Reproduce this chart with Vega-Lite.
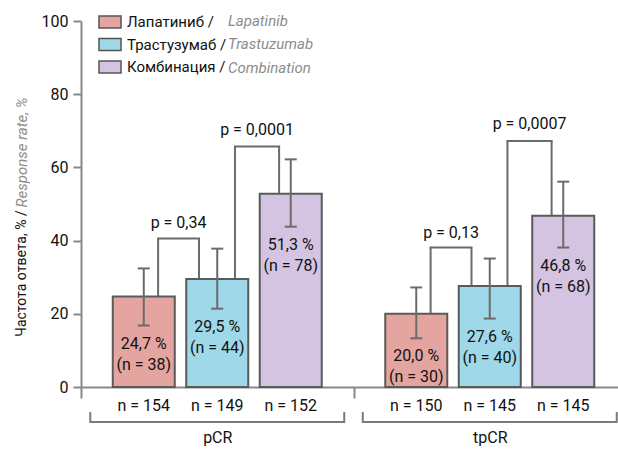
{
  "$schema": "https://vega.github.io/schema/vega-lite/v6.json",
  "width": 537,
  "height": 366,
  "autosize": {"type": "none"},
  "padding": {"left": 81, "top": 21, "right": 0, "bottom": 63},
  "background": "white",
  "config": {
    "view": {"stroke": null},
    "font": "Roboto",
    "text": {"font": "Roboto", "fontSize": 16, "color": "#111"}
  },
  "datasets": {
    "bars": [
      {"group": "pCR", "drug": "Lapatinib", "ru": "Лапатиниб", "value": 24.7, "lo": 16.8, "hi": 32.4, "pct": "24,7 %", "nres": "(n = 38)", "ntot": "n = 154"},
      {"group": "pCR", "drug": "Trastuzumab", "ru": "Трастузумаб", "value": 29.5, "lo": 21.4, "hi": 37.8, "pct": "29,5 %", "nres": "(n = 44)", "ntot": "n = 149"},
      {"group": "pCR", "drug": "Combination", "ru": "Комбинация", "value": 52.8, "lo": 43.8, "hi": 62.2, "pct": "51,3 %", "nres": "(n = 78)", "ntot": "n = 152"},
      {"group": "tpCR", "drug": "Lapatinib", "ru": "Лапатиниб", "value": 20.0, "lo": 13.3, "hi": 27.2, "pct": "20,0 %", "nres": "(n = 30)", "ntot": "n = 150"},
      {"group": "tpCR", "drug": "Trastuzumab", "ru": "Трастузумаб", "value": 27.6, "lo": 18.7, "hi": 35.1, "pct": "27,6 %", "nres": "(n = 40)", "ntot": "n = 145"},
      {"group": "tpCR", "drug": "Combination", "ru": "Комбинация", "value": 46.8, "lo": 38.1, "hi": 56.1, "pct": "46,8 %", "nres": "(n = 68)", "ntot": "n = 145"}
    ],
    "brackets": [
      {"group": "pCR", "from": "Lapatinib", "to": "Trastuzumab", "h": 40.6, "p": "p = 0,34"},
      {"group": "pCR", "from": "Trastuzumab", "to": "Combination", "h": 65.7, "p": "p = 0,0001"},
      {"group": "tpCR", "from": "Lapatinib", "to": "Trastuzumab", "h": 38.1, "p": "p = 0,13"},
      {"group": "tpCR", "from": "Trastuzumab", "to": "Combination", "h": 67.2, "p": "p = 0,0007"}
    ],
    "groups": [{"group": "pCR"}, {"group": "tpCR"}]
  },
  "resolve": {"axis": {"y": "independent"}},
  "layer": [
    {
      "data": {"name": "brackets"},
      "transform": [{"filter": "datum.from == 'Lapatinib'"}],
      "mark": {"type": "rule", "color": "#6b6b6b", "strokeWidth": 2},
      "encoding": {
        "x": {"field": "group", "type": "nominal", "bandPosition": 0.283, "scale": {"paddingInner": 0, "paddingOuter": 0, "range": [0, 545]},
          "axis": {"title": null, "labelAngle": 0, "labelFont": "Roboto", "labelFontSize": 16, "labelColor": "#111", "labelPadding": 31, "tickBand": "extent", "tickSize": 11, "tickWidth": 2, "tickColor": "#888", "domainColor": "#888", "domainWidth": 2}},
        "y": {"field": "h", "type": "quantitative", "scale": {"domain": [0, 100], "nice": false}, "axis": null},
        "y2": {"datum": 0}
      }
    },
    {
      "data": {"name": "brackets"},
      "transform": [{"filter": "datum.from == 'Lapatinib'"}],
      "mark": {"type": "rule", "color": "#6b6b6b", "strokeWidth": 2},
      "encoding": {
        "x": {"field": "group", "type": "nominal", "bandPosition": 0.433, "scale": {"paddingInner": 0, "paddingOuter": 0, "range": [0, 545]},
          "axis": {"title": null, "labelAngle": 0, "labelFont": "Roboto", "labelFontSize": 16, "labelColor": "#111", "labelPadding": 31, "tickBand": "extent", "tickSize": 11, "tickWidth": 2, "tickColor": "#888", "domainColor": "#888", "domainWidth": 2}},
        "y": {"field": "h", "type": "quantitative", "scale": {"domain": [0, 100], "nice": false}, "axis": null},
        "y2": {"datum": 0}
      }
    },
    {
      "data": {"name": "brackets"},
      "transform": [{"filter": "datum.from == 'Trastuzumab'"}],
      "mark": {"type": "rule", "color": "#6b6b6b", "strokeWidth": 2},
      "encoding": {
        "x": {"field": "group", "type": "nominal", "bandPosition": 0.565, "scale": {"paddingInner": 0, "paddingOuter": 0, "range": [0, 545]},
          "axis": {"title": null, "labelAngle": 0, "labelFont": "Roboto", "labelFontSize": 16, "labelColor": "#111", "labelPadding": 31, "tickBand": "extent", "tickSize": 11, "tickWidth": 2, "tickColor": "#888", "domainColor": "#888", "domainWidth": 2}},
        "y": {"field": "h", "type": "quantitative", "scale": {"domain": [0, 100], "nice": false}, "axis": null},
        "y2": {"datum": 0}
      }
    },
    {
      "data": {"name": "brackets"},
      "transform": [{"filter": "datum.from == 'Trastuzumab'"}],
      "mark": {"type": "rule", "color": "#6b6b6b", "strokeWidth": 2},
      "encoding": {
        "x": {"field": "group", "type": "nominal", "bandPosition": 0.727, "scale": {"paddingInner": 0, "paddingOuter": 0, "range": [0, 545]},
          "axis": {"title": null, "labelAngle": 0, "labelFont": "Roboto", "labelFontSize": 16, "labelColor": "#111", "labelPadding": 31, "tickBand": "extent", "tickSize": 11, "tickWidth": 2, "tickColor": "#888", "domainColor": "#888", "domainWidth": 2}},
        "y": {"field": "h", "type": "quantitative", "scale": {"domain": [0, 100], "nice": false}, "axis": null},
        "y2": {"datum": 0}
      }
    },
    {
      "data": {"name": "brackets"},
      "transform": [{"filter": "datum.from == 'Lapatinib'"}],
      "mark": {"type": "rule", "color": "#6b6b6b", "strokeWidth": 2, "strokeCap": "square"},
      "encoding": {
        "x": {"field": "group", "type": "nominal", "bandPosition": 0.283, "scale": {"paddingInner": 0, "paddingOuter": 0, "range": [0, 545]},
          "axis": {"title": null, "labelAngle": 0, "labelFont": "Roboto", "labelFontSize": 16, "labelColor": "#111", "labelPadding": 31, "tickBand": "extent", "tickSize": 11, "tickWidth": 2, "tickColor": "#888", "domainColor": "#888", "domainWidth": 2}},
        "x2": {"field": "group", "bandPosition": 0.433},
        "y": {"field": "h", "type": "quantitative", "scale": {"domain": [0, 100], "nice": false}, "axis": null}
      }
    },
    {
      "data": {"name": "brackets"},
      "transform": [{"filter": "datum.from == 'Trastuzumab'"}],
      "mark": {"type": "rule", "color": "#6b6b6b", "strokeWidth": 2, "strokeCap": "square"},
      "encoding": {
        "x": {"field": "group", "type": "nominal", "bandPosition": 0.565, "scale": {"paddingInner": 0, "paddingOuter": 0, "range": [0, 545]},
          "axis": {"title": null, "labelAngle": 0, "labelFont": "Roboto", "labelFontSize": 16, "labelColor": "#111", "labelPadding": 31, "tickBand": "extent", "tickSize": 11, "tickWidth": 2, "tickColor": "#888", "domainColor": "#888", "domainWidth": 2}},
        "x2": {"field": "group", "bandPosition": 0.727},
        "y": {"field": "h", "type": "quantitative", "scale": {"domain": [0, 100], "nice": false}, "axis": null}
      }
    },
    {
      "data": {"name": "brackets"},
      "transform": [{"filter": "datum.from == 'Lapatinib'"}],
      "mark": {"type": "text", "baseline": "middle", "align": "center", "dy": -15},
      "encoding": {
        "x": {"field": "group", "type": "nominal", "bandPosition": 0.358, "scale": {"paddingInner": 0, "paddingOuter": 0, "range": [0, 545]},
          "axis": {"title": null, "labelAngle": 0, "labelFont": "Roboto", "labelFontSize": 16, "labelColor": "#111", "labelPadding": 31, "tickBand": "extent", "tickSize": 11, "tickWidth": 2, "tickColor": "#888", "domainColor": "#888", "domainWidth": 2}},
        "y": {"field": "h", "type": "quantitative", "scale": {"domain": [0, 100], "nice": false}, "axis": null},
        "text": {"field": "p"}
      }
    },
    {
      "data": {"name": "brackets"},
      "transform": [{"filter": "datum.from == 'Trastuzumab'"}],
      "mark": {"type": "text", "baseline": "middle", "align": "center", "dy": -17},
      "encoding": {
        "x": {"field": "group", "type": "nominal", "bandPosition": 0.646, "scale": {"paddingInner": 0, "paddingOuter": 0, "range": [0, 545]},
          "axis": {"title": null, "labelAngle": 0, "labelFont": "Roboto", "labelFontSize": 16, "labelColor": "#111", "labelPadding": 31, "tickBand": "extent", "tickSize": 11, "tickWidth": 2, "tickColor": "#888", "domainColor": "#888", "domainWidth": 2}},
        "y": {"field": "h", "type": "quantitative", "scale": {"domain": [0, 100], "nice": false}, "axis": null},
        "text": {"field": "p"}
      }
    },
    {
      "data": {"name": "bars"},
      "mark": {"type": "bar", "stroke": "#5a5a5a", "strokeWidth": 2, "opacity": 1},
      "encoding": {
        "x": {"field": "group", "type": "nominal", "scale": {"paddingInner": 0, "paddingOuter": 0, "range": [0, 545]},
          "axis": {"title": null, "labelAngle": 0, "labelFont": "Roboto", "labelFontSize": 16, "labelColor": "#111", "labelPadding": 31, "tickBand": "extent", "tickSize": 11, "tickWidth": 2, "tickColor": "#888", "domainColor": "#888", "domainWidth": 2}},
        "xOffset": {"field": "drug", "type": "nominal", "scale": {"domain": ["Lapatinib", "Trastuzumab", "Combination"], "paddingInner": 0.156, "paddingOuter": 0.432}},
        "y": {"field": "value", "type": "quantitative", "scale": {"domain": [0, 100], "nice": false},
          "axis": {"values": [0, 20, 40, 60, 80, 100], "grid": false, "title": "Частота ответа,  % /", "titleFont": "Roboto", "titleFontSize": 14, "titleFontWeight": "normal", "titleColor": "#111", "titleAngle": 270, "titleAlign": "center", "titleBaseline": "middle", "titleX": -60, "titleY": 252, "labelFont": "Roboto", "labelFontSize": 16, "labelColor": "#111", "labelPadding": 5, "tickSize": 8, "tickWidth": 2, "tickColor": "#888", "domainColor": "#888", "domainWidth": 2}},
        "fill": {"field": "ru", "type": "nominal",
          "scale": {"domain": ["Лапатиниб", "Трастузумаб", "Комбинация"], "range": ["#E4A5A1", "#9FD8E8", "#D4C4E2"]},
          "legend": {"orient": "none", "legendX": 17, "legendY": -11, "title": null, "symbolType": "M-1,-0.55H1V0.55H-1Z", "symbolSize": 484, "symbolStrokeColor": "#555", "symbolStrokeWidth": 1.5, "labelExpr": "datum.label + ' /'", "labelFont": "Roboto", "labelFontSize": 15, "labelColor": "#111", "labelOffset": 5, "rowPadding": 0.5}}
      }
    },
    {
      "data": {"name": "bars"},
      "mark": {"type": "rule", "color": "#6b6b6b", "strokeWidth": 2},
      "encoding": {
        "x": {"field": "group", "type": "nominal", "scale": {"paddingInner": 0, "paddingOuter": 0, "range": [0, 545]},
          "axis": {"title": null, "labelAngle": 0, "labelFont": "Roboto", "labelFontSize": 16, "labelColor": "#111", "labelPadding": 31, "tickBand": "extent", "tickSize": 11, "tickWidth": 2, "tickColor": "#888", "domainColor": "#888", "domainWidth": 2}},
        "xOffset": {"field": "drug", "type": "nominal", "scale": {"domain": ["Lapatinib", "Trastuzumab", "Combination"], "paddingInner": 0.156, "paddingOuter": 0.432}},
        "y": {"field": "lo", "type": "quantitative", "scale": {"domain": [0, 100], "nice": false},
          "axis": {"orient": "right", "labels": false, "ticks": false, "domain": false, "grid": false, "title": "Response rate, %", "titleFont": "Roboto", "titleFontSize": 15, "titleFontWeight": "normal", "titleFontStyle": "italic", "titleColor": "#8c8c8c", "titleAngle": 270, "titleAlign": "center", "titleBaseline": "middle", "titleX": -597, "titleY": 131}},
        "y2": {"field": "hi"},
        "strokeDash": {"field": "drug", "type": "nominal",
          "scale": {"domain": ["Lapatinib", "Trastuzumab", "Combination"], "range": [[1, 0], [1, 0], [1, 0]]},
          "legend": {"orient": "none", "legendX": 132, "legendY": -8, "title": null, "symbolSize": 0, "symbolOpacity": 0, "symbolStrokeWidth": 0, "labelFont": "Roboto", "labelFontSize": 15, "labelFontStyle": "italic", "labelColor": "#8c8c8c", "labelOffset": 0, "rowPadding": 7.5}}
      }
    },
    {
      "data": {"name": "bars"},
      "mark": {"type": "tick", "color": "#6b6b6b", "thickness": 2, "size": 12, "opacity": 1},
      "encoding": {
        "x": {"field": "group", "type": "nominal", "scale": {"paddingInner": 0, "paddingOuter": 0, "range": [0, 545]},
          "axis": {"title": null, "labelAngle": 0, "labelFont": "Roboto", "labelFontSize": 16, "labelColor": "#111", "labelPadding": 31, "tickBand": "extent", "tickSize": 11, "tickWidth": 2, "tickColor": "#888", "domainColor": "#888", "domainWidth": 2}},
        "xOffset": {"field": "drug", "type": "nominal", "scale": {"domain": ["Lapatinib", "Trastuzumab", "Combination"], "paddingInner": 0.156, "paddingOuter": 0.432}},
        "y": {"field": "lo", "type": "quantitative", "scale": {"domain": [0, 100], "nice": false}, "axis": null}
      }
    },
    {
      "data": {"name": "bars"},
      "mark": {"type": "tick", "color": "#6b6b6b", "thickness": 2, "size": 12, "opacity": 1},
      "encoding": {
        "x": {"field": "group", "type": "nominal", "scale": {"paddingInner": 0, "paddingOuter": 0, "range": [0, 545]},
          "axis": {"title": null, "labelAngle": 0, "labelFont": "Roboto", "labelFontSize": 16, "labelColor": "#111", "labelPadding": 31, "tickBand": "extent", "tickSize": 11, "tickWidth": 2, "tickColor": "#888", "domainColor": "#888", "domainWidth": 2}},
        "xOffset": {"field": "drug", "type": "nominal", "scale": {"domain": ["Lapatinib", "Trastuzumab", "Combination"], "paddingInner": 0.156, "paddingOuter": 0.432}},
        "y": {"field": "hi", "type": "quantitative", "scale": {"domain": [0, 100], "nice": false}, "axis": null}
      }
    },
    {
      "data": {"name": "bars"},
      "mark": {"type": "text", "baseline": "middle", "align": "center", "dy": 18},
      "encoding": {
        "x": {"field": "group", "type": "nominal", "scale": {"paddingInner": 0, "paddingOuter": 0, "range": [0, 545]},
          "axis": {"title": null, "labelAngle": 0, "labelFont": "Roboto", "labelFontSize": 16, "labelColor": "#111", "labelPadding": 31, "tickBand": "extent", "tickSize": 11, "tickWidth": 2, "tickColor": "#888", "domainColor": "#888", "domainWidth": 2}},
        "xOffset": {"field": "drug", "type": "nominal", "scale": {"domain": ["Lapatinib", "Trastuzumab", "Combination"], "paddingInner": 0.156, "paddingOuter": 0.432}},
        "y": {"field": "lo", "type": "quantitative", "scale": {"domain": [0, 100], "nice": false}, "axis": null},
        "text": {"field": "pct"}
      }
    },
    {
      "data": {"name": "bars"},
      "mark": {"type": "text", "baseline": "middle", "align": "center", "dy": 39},
      "encoding": {
        "x": {"field": "group", "type": "nominal", "scale": {"paddingInner": 0, "paddingOuter": 0, "range": [0, 545]},
          "axis": {"title": null, "labelAngle": 0, "labelFont": "Roboto", "labelFontSize": 16, "labelColor": "#111", "labelPadding": 31, "tickBand": "extent", "tickSize": 11, "tickWidth": 2, "tickColor": "#888", "domainColor": "#888", "domainWidth": 2}},
        "xOffset": {"field": "drug", "type": "nominal", "scale": {"domain": ["Lapatinib", "Trastuzumab", "Combination"], "paddingInner": 0.156, "paddingOuter": 0.432}},
        "y": {"field": "lo", "type": "quantitative", "scale": {"domain": [0, 100], "nice": false}, "axis": null},
        "text": {"field": "nres"}
      }
    },
    {
      "data": {"name": "bars"},
      "mark": {"type": "text", "baseline": "middle", "align": "center", "dy": 19},
      "encoding": {
        "x": {"field": "group", "type": "nominal", "scale": {"paddingInner": 0, "paddingOuter": 0, "range": [0, 545]},
          "axis": {"title": null, "labelAngle": 0, "labelFont": "Roboto", "labelFontSize": 16, "labelColor": "#111", "labelPadding": 31, "tickBand": "extent", "tickSize": 11, "tickWidth": 2, "tickColor": "#888", "domainColor": "#888", "domainWidth": 2}},
        "xOffset": {"field": "drug", "type": "nominal", "scale": {"domain": ["Lapatinib", "Trastuzumab", "Combination"], "paddingInner": 0.156, "paddingOuter": 0.432}},
        "y": {"datum": 0, "type": "quantitative", "scale": {"domain": [0, 100], "nice": false}, "axis": null},
        "text": {"field": "ntot"}
      }
    },
    {
      "data": {"name": "groups"},
      "mark": {"type": "tick", "color": "#7a7a7a", "thickness": 2, "size": 254, "yOffset": 35, "opacity": 1},
      "encoding": {
        "x": {"field": "group", "type": "nominal", "scale": {"paddingInner": 0, "paddingOuter": 0, "range": [0, 545]},
          "axis": {"title": null, "labelAngle": 0, "labelFont": "Roboto", "labelFontSize": 16, "labelColor": "#111", "labelPadding": 31, "tickBand": "extent", "tickSize": 11, "tickWidth": 2, "tickColor": "#888", "domainColor": "#888", "domainWidth": 2}},
        "y": {"datum": 0, "type": "quantitative", "scale": {"domain": [0, 100], "nice": false}, "axis": null}
      }
    },
    {
      "data": {"name": "groups"},
      "mark": {"type": "rule", "color": "#7a7a7a", "strokeWidth": 2, "yOffset": 25, "y2Offset": 36},
      "encoding": {
        "x": {"field": "group", "type": "nominal", "bandPosition": 0.034, "scale": {"paddingInner": 0, "paddingOuter": 0, "range": [0, 545]},
          "axis": {"title": null, "labelAngle": 0, "labelFont": "Roboto", "labelFontSize": 16, "labelColor": "#111", "labelPadding": 31, "tickBand": "extent", "tickSize": 11, "tickWidth": 2, "tickColor": "#888", "domainColor": "#888", "domainWidth": 2}},
        "y": {"datum": 0, "type": "quantitative", "scale": {"domain": [0, 100], "nice": false}, "axis": null},
        "y2": {"datum": 0}
      }
    },
    {
      "data": {"name": "groups"},
      "mark": {"type": "rule", "color": "#7a7a7a", "strokeWidth": 2, "yOffset": 25, "y2Offset": 36},
      "encoding": {
        "x": {"field": "group", "type": "nominal", "bandPosition": 0.966, "scale": {"paddingInner": 0, "paddingOuter": 0, "range": [0, 545]},
          "axis": {"title": null, "labelAngle": 0, "labelFont": "Roboto", "labelFontSize": 16, "labelColor": "#111", "labelPadding": 31, "tickBand": "extent", "tickSize": 11, "tickWidth": 2, "tickColor": "#888", "domainColor": "#888", "domainWidth": 2}},
        "y": {"datum": 0, "type": "quantitative", "scale": {"domain": [0, 100], "nice": false}, "axis": null},
        "y2": {"datum": 0}
      }
    }
  ]
}
